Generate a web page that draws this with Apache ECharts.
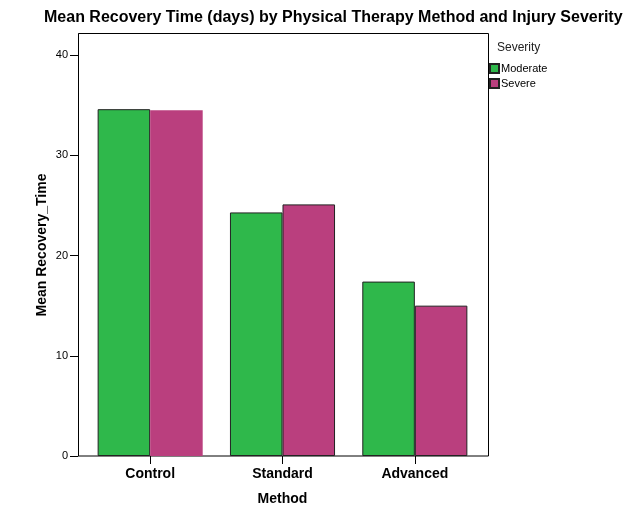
<!DOCTYPE html>
<html>
<head>
    <meta charset="utf-8">
    <title>Mean Recovery Time</title>
    <script src="https://cdn.jsdelivr.net/npm/echarts@6/dist/echarts.min.js"></script>
</head>
<body style="margin:0">
<div id="main" style="width:641px;height:518px;"></div>
<script>
    // data
    var methods = ['Control', 'Standard', 'Advanced'];
    var moderate = [34.6, 24.3, 17.4];
    var severe = [34.5, 25.1, 15.0];
    var yTicks = [0, 10, 20, 30, 40];

    var font = 'Liberation Sans, Arial, sans-serif';
    var green = '#2fb84b';
    var pink = '#ba3f7e';

    var myChart = echarts.init(document.getElementById('main'));

    var option = {
        backgroundColor: '#fff',
        textStyle: { fontFamily: font },
        title: {
            text: 'Mean Recovery Time (days) by Physical Therapy Method and Injury Severity',
            left: 44,
            top: 10,
            padding: 0,
            textStyle: { fontSize: 16, fontWeight: 'bold', color: '#000', fontFamily: font }
        },
        legend: {
            orient: 'vertical',
            left: 489,
            top: 63,
            padding: 0,
            itemGap: 4,
            itemWidth: 9,
            itemHeight: 9,
            icon: 'rect',
            textStyle: { fontSize: 11, color: '#000', padding: [0, 0, 0, -3] },
            data: ['Moderate', 'Severe']
        },
        graphic: [
            {
                type: 'rect',
                silent: true,
                shape: { x: 78.5, y: 33.5, width: 410, height: 422.5 },
                style: { fill: null, stroke: '#000', lineWidth: 1 }
            },
            {
                type: 'text',
                left: 497,
                top: 42,
                style: { text: 'Severity', fontSize: 12, fill: '#222', fontFamily: font }
            }
        ],
        grid: { left: 84, right: 160, top: 34, bottom: 62 },
        xAxis: {
            type: 'category',
            data: methods,
            name: 'Method',
            nameLocation: 'middle',
            nameGap: 36,
            nameTextStyle: { fontSize: 14, fontWeight: 'bold', color: '#000' },
            axisLine: { show: false },
            axisTick: { show: true, alignWithLabel: true, length: 8, lineStyle: { color: '#000' } },
            axisLabel: { fontSize: 14, fontWeight: 'bold', color: '#000', margin: 11 },
            splitLine: { show: false }
        },
        yAxis: {
            type: 'value',
            min: 0,
            max: 42.1,
            offset: 6,
            name: 'Mean Recovery_Time',
            nameLocation: 'middle',
            nameGap: 29,
            nameMoveOverlap: false,
            nameTextStyle: { fontSize: 14, fontWeight: 'bold', color: '#000' },
            axisLine: { show: true, lineStyle: { color: '#000' } },
            axisTick: { show: true, length: 8, customValues: yTicks, lineStyle: { color: '#000' } },
            axisLabel: { fontSize: 11, color: '#000', margin: 10, customValues: yTicks },
            splitLine: { show: false }
        },
        series: [
            {
                name: 'Moderate',
                type: 'bar',
                barGap: '0%',
                barCategoryGap: '20.6%',
                itemStyle: { color: green, borderColor: '#222', borderWidth: 1 },
                data: moderate
            },
            {
                name: 'Severe',
                type: 'bar',
                itemStyle: { color: pink, borderColor: '#222', borderWidth: 1 },
                data: severe.map(function (v, i) {
                    // first bar in the reference has no outline
                    return i === 0 ? { value: v, itemStyle: { borderWidth: 0 } } : v;
                })
            }
        ]
    };

    myChart.setOption(option);
</script>
</body>
</html>
